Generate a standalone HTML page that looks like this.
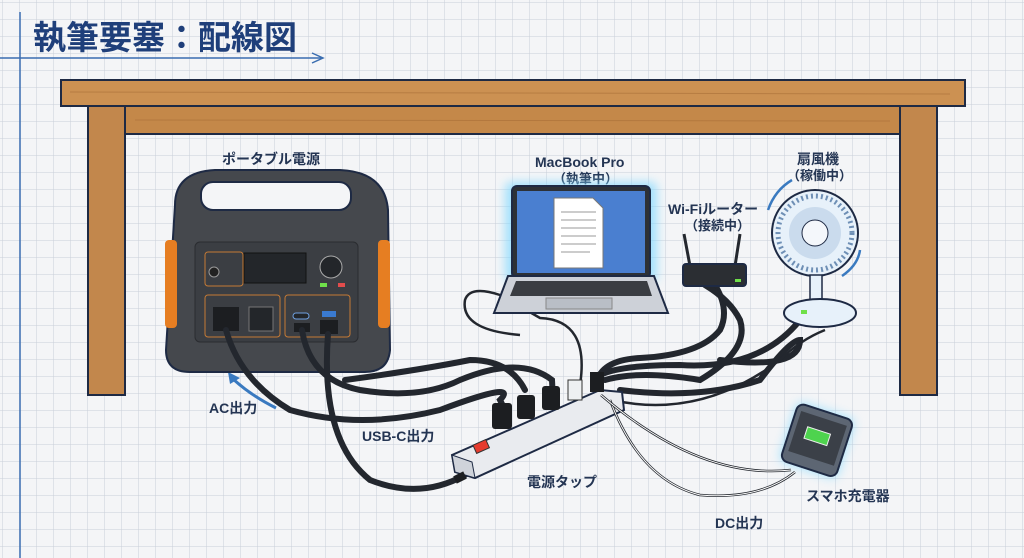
<!DOCTYPE html>
<html><head><meta charset="utf-8"><style>
html,body{margin:0;padding:0;width:1024px;height:558px;overflow:hidden;background:#f4f5f7}
svg{display:block}
text{font-family:"Liberation Sans","Noto Sans CJK JP",sans-serif;font-weight:bold;fill:#243553}
</style></head><body>
<svg width="1024" height="558" viewBox="0 0 1024 558" xmlns="http://www.w3.org/2000/svg">
<defs>
<pattern id="g" width="17" height="17" patternUnits="userSpaceOnUse" x="3" y="3">
<path d="M17 0V17H0" fill="none" stroke="#c9ced8" stroke-width="1"/>
</pattern>
<filter id="glow" x="-30%" y="-30%" width="160%" height="160%"><feGaussianBlur stdDeviation="5"/></filter>
</defs>
<rect width="1024" height="558" fill="#f4f5f7"/>
<rect width="1024" height="558" fill="url(#g)"/>
<!-- title -->
<line x1="20" y1="12" x2="20" y2="558" stroke="#3a6db0" stroke-width="1.5"/>
<line x1="0" y1="58" x2="322" y2="58" stroke="#3a6db0" stroke-width="1.5"/>
<path d="M312 53 L323 58 L312 63" fill="none" stroke="#3a6db0" stroke-width="1.5"/>
<text x="33" y="49" font-size="33" style="fill:#1f3f7a">執筆要塞：配線図</text>
<!-- table -->
<rect x="88" y="104" width="37" height="291" fill="#c2874c" stroke="#1e2a44" stroke-width="2"/>
<rect x="900" y="104" width="37" height="291" fill="#c2874c" stroke="#1e2a44" stroke-width="2"/>
<rect x="125" y="106" width="775" height="28" fill="#c48849" stroke="#1e2a44" stroke-width="2"/>
<rect x="61" y="80" width="904" height="26" fill="#cc9152" stroke="#1e2a44" stroke-width="2"/>
<line x1="70" y1="92" x2="950" y2="94" stroke="#a86f38" stroke-width="1" opacity=".6"/>
<line x1="135" y1="120" x2="890" y2="121" stroke="#a86f38" stroke-width="1" opacity=".6"/>
<!-- labels -->
<text x="222" y="164" font-size="14">ポータブル電源</text>
<text x="535" y="167" font-size="14">MacBook Pro</text>
<text x="553" y="183" font-size="13">（執筆中）</text>
<text x="668" y="214" font-size="14">Wi-Fiルーター</text>
<text x="685" y="230" font-size="13">（接続中）</text>
<text x="797" y="164" font-size="14">扇風機</text>
<text x="787" y="180" font-size="13">（稼働中）</text>
<text x="209" y="413" font-size="14">AC出力</text>
<text x="362" y="441" font-size="14">USB-C出力</text>
<text x="527" y="487" font-size="14">電源タップ</text>
<text x="806" y="501" font-size="14">スマホ充電器</text>
<text x="715" y="528" font-size="14">DC出力</text>
<path d="M276 408 Q250 395 232 378" fill="none" stroke="#3a7ac0" stroke-width="3"/>
<path d="M228 372 L240 378 L230 384Z" fill="#3a7ac0"/>
<!-- power station -->
<path d="M175 205 Q175 172 215 170 L340 170 Q385 172 388 210 L390 350 Q388 372 365 372 L190 372 Q166 372 166 350Z" fill="#45484d" stroke="#1e2a44" stroke-width="2"/>
<rect x="201" y="182" width="150" height="28" rx="12" fill="#f4f5f7" stroke="#1e2a44" stroke-width="2"/>
<rect x="165" y="240" width="12" height="88" rx="4" fill="#e67e22"/>
<rect x="378" y="240" width="12" height="88" rx="4" fill="#e67e22"/>
<rect x="195" y="242" width="163" height="100" rx="5" fill="#3b3e43" stroke="#2a2c30"/>
<rect x="205" y="252" width="38" height="34" rx="3" fill="none" stroke="#c57a35"/>
<circle cx="214" cy="272" r="5" fill="#222" stroke="#999"/>
<rect x="244" y="253" width="62" height="30" fill="#23262a" stroke="#111"/>
<circle cx="331" cy="267" r="11" fill="#23262a" stroke="#aaa"/>
<rect x="320" y="283" width="7" height="4" fill="#6fe04a"/><rect x="338" y="283" width="7" height="4" fill="#e24c4c"/>
<rect x="205" y="295" width="75" height="42" rx="3" fill="none" stroke="#c57a35"/>
<rect x="285" y="295" width="65" height="42" rx="3" fill="none" stroke="#c57a35"/>
<rect x="213" y="307" width="26" height="24" fill="#1c1e21"/>
<rect x="249" y="307" width="24" height="24" fill="#23262a" stroke="#777"/>
<rect x="293" y="313" width="16" height="6" rx="3" fill="#23262a" stroke="#6fa0e0"/>
<rect x="322" y="311" width="14" height="6" fill="#3a7ad0"/>
<rect x="294" y="323" width="16" height="9" fill="#1c1e21"/>
<rect x="320" y="320" width="18" height="14" fill="#1c1e21"/>
<!-- cables dark -->
<g fill="none" stroke="#23272e" stroke-width="6" stroke-linecap="round">
<path d="M226 330 Q240 380 290 410 Q360 430 440 410 Q520 380 500 400 L505 410"/>
<path d="M302 330 Q310 380 360 390 Q420 400 460 380 Q520 355 552 380 L553 400"/>
<path d="M328 334 Q320 440 370 480 Q420 500 465 475"/>
<path d="M345 380 Q420 370 470 360 Q510 360 525 390"/>
<path d="M596 385 Q600 360 640 358 Q700 355 720 330 Q730 310 715 285"/>
<path d="M605 380 Q640 370 700 380 Q750 350 740 320 Q730 300 705 285"/>
<path d="M600 375 Q620 365 680 365 Q760 370 800 320 Q810 300 820 320"/>
<path d="M620 390 Q700 400 760 380 Q790 340 800 340 Q800 370 720 360"/>
</g>
<g fill="none" stroke="#23272e" stroke-width="2.5">
<path d="M580 385 Q590 320 540 318 L500 295 Q470 285 465 300 Q460 330 520 335"/>
<path d="M612 400 Q700 420 780 360 Q800 340 825 330"/>
</g>
<!-- power strip -->
<path d="M452 455 L600 390 L622 392 L624 410 L475 478 L455 472Z" fill="#e9ebef" stroke="#1e2a44" stroke-width="2"/>
<path d="M452 455 L455 472 L475 478 L472 462Z" fill="#cfd3da" stroke="#1e2a44"/>
<rect x="474" y="442" width="14" height="9" fill="#e53b2e" stroke="#333" transform="rotate(-24 481 446)"/>
<g fill="#1c1e21">
<rect x="492" y="403" width="20" height="26" rx="3"/>
<rect x="517" y="395" width="18" height="24" rx="3"/>
<rect x="542" y="386" width="18" height="24" rx="3"/>
</g>
<rect x="568" y="380" width="14" height="20" fill="#eef0f2" stroke="#333"/>
<rect x="590" y="372" width="14" height="20" fill="#1c1e21"/>
<path d="M465 475 l-10 5" stroke="#1c1e21" stroke-width="8"/>
<!-- laptop -->
<rect x="505" y="182" width="152" height="100" rx="6" fill="#7fd8ff" filter="url(#glow)" opacity=".7"/>
<rect x="512" y="186" width="138" height="92" rx="5" fill="#2d3136" stroke="#1e2a44" stroke-width="2"/>
<rect x="517" y="191" width="128" height="82" fill="#4a7fd0"/>
<path d="M554 198 L593 198 L603 208 L603 268 L554 268Z" fill="#fff" stroke="#777"/>
<g stroke="#999" stroke-width="1"><line x1="561" y1="212" x2="596" y2="212"/><line x1="561" y1="220" x2="596" y2="220"/><line x1="561" y1="228" x2="596" y2="228"/><line x1="561" y1="236" x2="596" y2="236"/><line x1="561" y1="244" x2="596" y2="244"/><line x1="561" y1="252" x2="590" y2="252"/></g>
<path d="M508 276 L654 276 L668 313 L494 313Z" fill="#cdd1d8" stroke="#1e2a44" stroke-width="2"/>
<path d="M516 281 L647 281 L652 296 L510 296Z" fill="#3a3d42"/>
<rect x="546" y="298" width="66" height="11" fill="#b9bec6" stroke="#888"/>
<!-- router -->
<line x1="690" y1="266" x2="684" y2="234" stroke="#23272e" stroke-width="3"/>
<line x1="735" y1="266" x2="740" y2="234" stroke="#23272e" stroke-width="3"/>
<rect x="683" y="264" width="63" height="22" rx="3" fill="#2b2e33" stroke="#1e2a44" stroke-width="2"/>
<rect x="735" y="279" width="6" height="3" fill="#6fe04a"/>
<!-- fan -->
<circle cx="815" cy="233" r="43" fill="#e7f1fa" stroke="#1e2a44" stroke-width="2"/>
<circle cx="815" cy="233" r="37" fill="none" stroke="#6e8fb5" stroke-width="5" stroke-dasharray="2 3"/>
<circle cx="815" cy="233" r="26" fill="#b7cde4" opacity=".6"/>
<circle cx="815" cy="233" r="13" fill="#f4f7fb" stroke="#1e2a44"/>
<rect x="810" y="275" width="12" height="30" fill="#e7f1fa" stroke="#1e2a44" stroke-width="1.5"/>
<ellipse cx="820" cy="313" rx="36" ry="14" fill="#e7f1fa" stroke="#1e2a44" stroke-width="2"/>
<rect x="801" y="310" width="6" height="4" fill="#6fe04a"/>
<path d="M768 210 Q775 190 792 180" fill="none" stroke="#3a7ac0" stroke-width="2.5"/>
<path d="M860 250 Q858 265 842 276" fill="none" stroke="#3a7ac0" stroke-width="2.5"/>
<!-- phone -->
<g transform="rotate(18 816 440)">
<rect x="786" y="408" width="62" height="64" rx="8" fill="#7fd8ff" filter="url(#glow)" opacity=".6"/>
<rect x="788" y="410" width="58" height="60" rx="7" fill="#5d6673" stroke="#1e2a44" stroke-width="2"/>
<rect x="793" y="417" width="48" height="42" fill="#3b4048"/>
<rect x="804" y="430" width="24" height="12" fill="#4ed34e" stroke="#eee"/>
</g>
<path d="M795 472 Q760 500 700 495 Q640 480 610 400" fill="none" stroke="#23272e" stroke-width="2.5"/>
<path d="M795 472 Q760 500 700 495 Q640 480 610 400" fill="none" stroke="#fff" stroke-width="1"/>
<path d="M601 395 Q700 480 791 470" fill="none" stroke="#23272e" stroke-width="2.5"/>
<path d="M601 395 Q700 480 791 470" fill="none" stroke="#fff" stroke-width="1"/>
</svg>
</body></html>
